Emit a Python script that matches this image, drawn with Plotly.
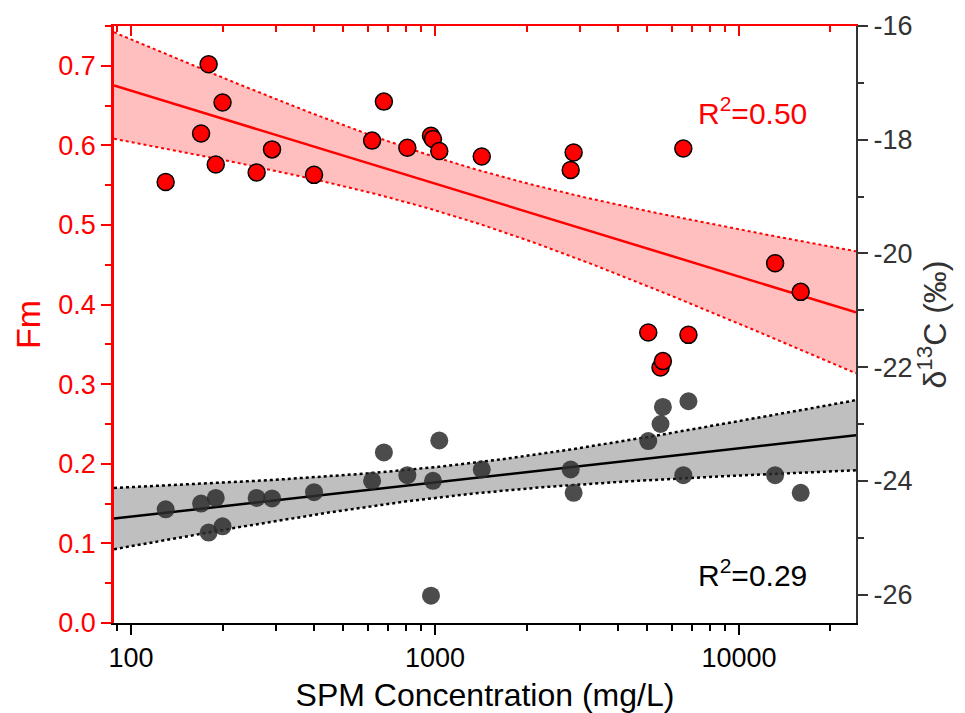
import numpy as np
import plotly.graph_objects as go

# ---- data ----
spm = [130, 170, 180, 190, 200, 259, 291, 400, 621, 679, 811, 970, 985, 1033,
       1425, 2795, 2858, 5030, 5520, 5620, 6820, 6560, 13150, 15960]
fm = [0.554, 0.615, 0.702, 0.576, 0.654, 0.566, 0.595, 0.563, 0.606, 0.655,
      0.597, 0.612, 0.608, 0.593, 0.586, 0.569, 0.591, 0.365, 0.321, 0.329,
      0.362, 0.596, 0.452, 0.416]
d13c = [-24.50, -24.40, -24.91, -24.30, -24.80, -24.30, -24.31, -24.20, -24.00,
        -23.50, -23.90, -26.02, -24.00, -23.29, -23.80, -23.80, -24.21, -23.30,
        -23.00, -22.70, -22.60, -23.90, -23.90, -24.21]
r2_labels = ["R<sup>2</sup>=0.50", "R<sup>2</sup>=0.29"]

x_range_log = [1.944, 4.385]
fm_range = [0, 0.75]
d13c_range = [-26.5, -16]
x_ticks = [100, 1000, 10000]
fm_ticks = [0.0, 0.1, 0.2, 0.3, 0.4, 0.5, 0.6, 0.7]
d13c_ticks = [-26, -24, -22, -20, -18, -16]

T95 = 2.074  # t(0.975, n-2=22)


def fit_band(x, y):
    lx = np.log10(np.asarray(x, float))
    y = np.asarray(y, float)
    n = len(lx)
    b, a = np.polyfit(lx, y, 1)
    resid = y - (a + b * lx)
    s = np.sqrt(np.sum(resid ** 2) / (n - 2))
    mx = lx.mean()
    sxx = np.sum((lx - mx) ** 2)
    gx = np.linspace(x_range_log[0], x_range_log[1], 200)
    yf = a + b * gx
    half = T95 * s * np.sqrt(1.0 / n + (gx - mx) ** 2 / sxx)
    return 10 ** gx, yf, yf - half, yf + half


FONT = "Arial, 'Liberation Sans', Helvetica, sans-serif"
RED = "#FF0000"
DARK = "#333333"
TICK_SIZE = 27

fig = go.Figure()

# red (Fm) band + fit
gx, yf, lo, hi = fit_band(spm, fm)
fig.add_trace(go.Scatter(x=gx, y=lo, mode="lines", line=dict(color=RED, width=2, dash="dot"),
                         showlegend=False, hoverinfo="skip"))
fig.add_trace(go.Scatter(x=gx, y=hi, mode="lines", line=dict(color=RED, width=2, dash="dot"),
                         fill="tonexty", fillcolor="rgba(255,0,0,0.25)",
                         showlegend=False, hoverinfo="skip"))
fig.add_trace(go.Scatter(x=gx, y=yf, mode="lines", line=dict(color=RED, width=2.5),
                         showlegend=False, hoverinfo="skip"))
fig.add_trace(go.Scatter(x=spm, y=fm, mode="markers",
                         marker=dict(size=17, color=RED, line=dict(color="#000000", width=1.5)),
                         showlegend=False))

# grey (d13C) band + fit
gx2, yf2, lo2, hi2 = fit_band(spm, d13c)
fig.add_trace(go.Scatter(x=gx2, y=lo2, yaxis="y2", mode="lines",
                         line=dict(color="#000000", width=2.5, dash="dot"),
                         showlegend=False, hoverinfo="skip"))
fig.add_trace(go.Scatter(x=gx2, y=hi2, yaxis="y2", mode="lines",
                         line=dict(color="#000000", width=2.5, dash="dot"),
                         fill="tonexty", fillcolor="rgba(0,0,0,0.25)",
                         showlegend=False, hoverinfo="skip"))
fig.add_trace(go.Scatter(x=gx2, y=yf2, yaxis="y2", mode="lines",
                         line=dict(color="#000000", width=2.5),
                         showlegend=False, hoverinfo="skip"))
fig.add_trace(go.Scatter(x=spm, y=d13c, yaxis="y2", mode="markers",
                         marker=dict(size=18, color="rgba(45,45,45,0.85)", line=dict(width=0)),
                         showlegend=False))

# invisible trace to carry the red top axis
fig.add_trace(go.Scatter(x=[x_ticks[0]], y=[fm_ticks[1]], xaxis="x2", mode="markers",
                         marker=dict(opacity=0), showlegend=False, hoverinfo="skip"))

minor_x = [m * 10 ** e for e in (1, 2, 3, 4) for m in range(2, 10)]

fig.update_layout(
    width=965, height=713,
    margin=dict(l=114, r=109, t=26, b=90, autoexpand=False),
    paper_bgcolor="white", plot_bgcolor="white",
    font=dict(family=FONT, size=TICK_SIZE, color="black"),
    xaxis=dict(type="log", range=x_range_log, showgrid=False, zeroline=False,
               showline=True, linecolor="black", linewidth=2,
               ticks="outside", ticklen=10, tickwidth=2, tickcolor="black",
               tickvals=x_ticks, ticktext=[str(v) for v in x_ticks],
               tickfont=dict(size=TICK_SIZE, color="black"),
               minor=dict(tickvals=minor_x, ticks="outside", ticklen=6, tickwidth=1.5,
                          tickcolor="black", showgrid=False),
               title=dict(text="SPM Concentration (mg/L)", font=dict(size=32, color="black"),
                          standoff=12)),
    xaxis2=dict(type="log", range=x_range_log, overlaying="x", side="top",
                showgrid=False, zeroline=False, showline=True, linecolor=RED, linewidth=2,
                ticks="inside", ticklen=10, tickwidth=2, tickcolor=RED,
                tickvals=x_ticks, showticklabels=False,
                minor=dict(tickvals=minor_x, ticks="inside", ticklen=6, tickwidth=1.5,
                           tickcolor=RED, showgrid=False)),
    yaxis=dict(range=fm_range, showgrid=False, zeroline=False,
               showline=True, linecolor=RED, linewidth=2.5,
               ticks="outside", ticklen=10, tickwidth=2, tickcolor=RED,
               tickvals=fm_ticks, ticktext=[f"{v:.1f}" for v in fm_ticks],
               tickfont=dict(size=TICK_SIZE, color=RED),
               minor=dict(dtick=0.05, ticks="outside", ticklen=6, tickwidth=1.5,
                          tickcolor=RED, showgrid=False),
               title=dict(text="Fm", font=dict(size=34, color=RED), standoff=8)),
    yaxis2=dict(range=d13c_range, overlaying="y", side="right", showgrid=False,
                zeroline=False, showline=True, linecolor=DARK, linewidth=2,
                ticks="outside", ticklen=10, tickwidth=2, tickcolor=DARK,
                tickvals=d13c_ticks, ticktext=[str(v) for v in d13c_ticks],
                tickfont=dict(size=TICK_SIZE, color=DARK),
                minor=dict(dtick=1, ticks="outside", ticklen=6, tickwidth=1.5,
                           tickcolor=DARK, showgrid=False),
                title=dict(text="δ<sup>13</sup>C (‰)", font=dict(size=32, color=DARK),
                           standoff=10)),
    annotations=[
        dict(text=r2_labels[0], xref="paper", yref="paper", x=0.86, y=0.858,
             xanchor="center", yanchor="middle",
             showarrow=False, font=dict(size=30, color=RED)),
        dict(text=r2_labels[1], xref="paper", yref="paper", x=0.86, y=0.084,
             xanchor="center", yanchor="middle",
             showarrow=False, font=dict(size=30, color="black")),
    ],
)

fig.write_html("out.html")
